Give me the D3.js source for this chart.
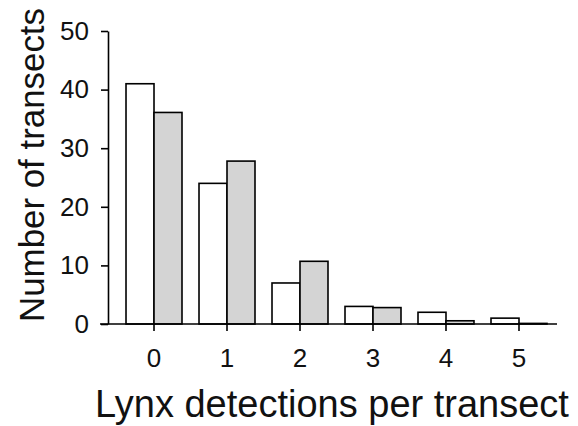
<html>
  <head>
    <script src="https://d3js.org/d3.v7.min.js"></script>
  </head>
  <style type="text/css">
    body { margin: 0; background: #fff; }
    svg { font-family: "Liberation Sans", Arial, sans-serif; }
    .bar { stroke: #000; stroke-width: 1.6; }
    .axis path, .axis line { stroke: #000; stroke-width: 1.6; }
    .title { fill: #111; }
  </style>
  <body>
    <div id="chart"></div>
  </body>
  <script type="text/javascript">
    var categories = ["0", "1", "2", "3", "4", "5"];
    var observed = [41, 24, 7, 3, 2, 1];
    var expected = [36.1, 27.8, 10.7, 2.8, 0.55, 0.1];
    var yTicks = [0, 10, 20, 30, 40, 50];

    var width = 578;
    var height = 426;

    var svg = d3.select("#chart").append("svg")
      .attr("width", width)
      .attr("height", height);

    /* Scales */
    var xScale = d3.scaleBand()
      .domain(categories)
      .range([109, 564])
      .paddingInner(0.233)
      .paddingOuter(0.233);

    var sub = d3.scaleBand()
      .domain(["obs", "exp"])
      .range([0, xScale.bandwidth()]);

    var yScale = d3.scaleLinear()
      .domain([0, 50])
      .range([324, 31]);

    var series = [
      {key: "obs", values: observed, fill: "#ffffff"},
      {key: "exp", values: expected, fill: "#d4d4d4"}
    ];

    /* Bars */
    series.forEach(function(s) {
      svg.append("g").selectAll("rect")
        .data(s.values).enter()
        .append("rect")
        .attr("class", "bar")
        .attr("x", (d, i) => xScale(categories[i]) + sub(s.key))
        .attr("y", d => yScale(d))
        .attr("width", sub.bandwidth())
        .attr("height", d => yScale(0) - yScale(d))
        .attr("fill", s.fill);
    });

    /* Axes */
    var xAxis = d3.axisBottom(xScale).tickSizeInner(7).tickSizeOuter(0).tickPadding(18);
    var gx = svg.append("g")
      .attr("class", "x axis")
      .attr("transform", `translate(0, ${yScale(0)})`)
      .call(xAxis);
    gx.select(".domain").attr("d", "M100,0H557");

    var yAxis = d3.axisLeft(yScale).tickValues(yTicks).tickSizeInner(7).tickSizeOuter(0).tickPadding(12);
    svg.append("g")
      .attr("class", "y axis")
      .attr("transform", "translate(108, 0)")
      .call(yAxis);

    svg.selectAll(".axis").attr("font-family", null);
    svg.selectAll(".axis .tick text")
      .style("font-size", "26px")
      .style("fill", "#111");

    /* Titles */
    svg.append("text")
      .attr("class", "title")
      .attr("x", 332)
      .attr("y", 417)
      .attr("text-anchor", "middle")
      .style("font-size", "38px")
      .text("Lynx detections per transect");

    svg.append("text")
      .attr("class", "title")
      .attr("transform", "translate(44, 165) rotate(-90)")
      .attr("text-anchor", "middle")
      .attr("textLength", 314)
      .attr("lengthAdjust", "spacingAndGlyphs")
      .style("font-size", "35px")
      .text("Number of transects");
  </script>
</html>
